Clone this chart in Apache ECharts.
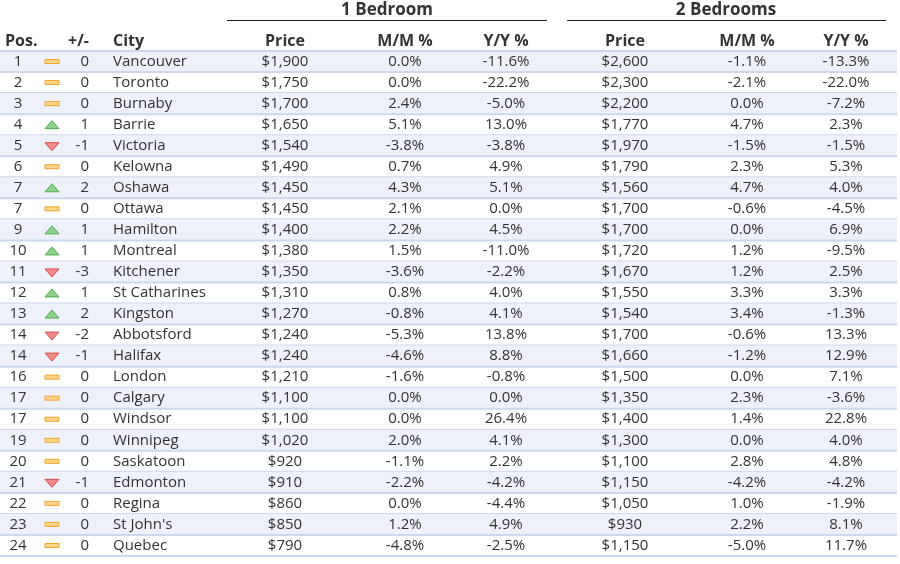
<!DOCTYPE html>
<html>
<head>
<meta charset="utf-8">
<script src="https://cdn.jsdelivr.net/npm/echarts@6/dist/echarts.min.js"></script>
<style>
html, body { margin: 0; padding: 0; background: #fff; }
#container { width: 900px; height: 564px; }
</style>
</head>
<body>
<div id="container"></div>
<script>
var positions = [1, 2, 3, 4, 5, 6, 7, 7, 9, 10, 11, 12, 13, 14, 14, 16, 17, 17, 19, 20, 21, 22, 23, 24];
var changes = [0, 0, 0, 1, -1, 0, 2, 0, 1, 1, -3, 1, 2, -2, -1, 0, 0, 0, 0, 0, -1, 0, 0, 0];
var cities = ['Vancouver', 'Toronto', 'Burnaby', 'Barrie', 'Victoria', 'Kelowna', 'Oshawa', 'Ottawa',
    'Hamilton', 'Montreal', 'Kitchener', 'St Catharines', 'Kingston', 'Abbotsford', 'Halifax', 'London',
    'Calgary', 'Windsor', 'Winnipeg', 'Saskatoon', 'Edmonton', 'Regina', "St John's", 'Quebec'];
var price1 = [1900, 1750, 1700, 1650, 1540, 1490, 1450, 1450, 1400, 1380, 1350, 1310, 1270, 1240, 1240, 1210, 1100, 1100, 1020, 920, 910, 860, 850, 790];
var mm1 = [0.0, 0.0, 2.4, 5.1, -3.8, 0.7, 4.3, 2.1, 2.2, 1.5, -3.6, 0.8, -0.8, -5.3, -4.6, -1.6, 0.0, 0.0, 2.0, -1.1, -2.2, 0.0, 1.2, -4.8];
var yy1 = [-11.6, -22.2, -5.0, 13.0, -3.8, 4.9, 5.1, 0.0, 4.5, -11.0, -2.2, 4.0, 4.1, 13.8, 8.8, -0.8, 0.0, 26.4, 4.1, 2.2, -4.2, -4.4, 4.9, -2.5];
var price2 = [2600, 2300, 2200, 1770, 1970, 1790, 1560, 1700, 1700, 1720, 1670, 1550, 1540, 1700, 1660, 1500, 1350, 1400, 1300, 1100, 1150, 1050, 930, 1150];
var mm2 = [-1.1, -2.1, 0.0, 4.7, -1.5, 2.3, 4.7, -0.6, 0.0, 1.2, 1.2, 3.3, 3.4, -0.6, -1.2, 0.0, 2.3, 1.4, 0.0, 2.8, -4.2, 1.0, 2.2, -5.0];
var yy2 = [-13.3, -22.0, -7.2, 2.3, -1.5, 5.3, 4.0, -4.5, 6.9, -9.5, 2.5, 3.3, -1.3, 13.3, 12.9, 7.1, -3.6, 22.8, 4.0, 4.8, -4.2, -1.9, 8.1, 11.7];

var groupHeaders = ['1 Bedroom', '2 Bedrooms'];
var colHeaders = ['Pos.', '+/-', 'City', 'Price', 'M/M %', 'Y/Y %', 'Price', 'M/M %', 'Y/Y %'];

var FONT = '15px "Open Sans", sans-serif';
var BOLD = 'bold 16px "Open Sans", sans-serif';
var TEXT = '#333333';

function money(v) { return '$' + v.toLocaleString('en-US'); }
function pct(v) { return v.toFixed(1) + '%'; }

var rows = [];
for (var i = 0; i < cities.length; i++) {
    rows.push([i, positions[i], changes[i], price1[i], mm1[i], yy1[i], price2[i], mm2[i], yy2[i]]);
}

function txt(x, y, s, align, font) {
    return {
        type: 'text',
        style: { text: s, x: x, y: y, align: align, verticalAlign: 'middle', font: font || FONT, fill: TEXT }
    };
}

function renderItem(params, api) {
    var i = params.dataIndex;
    var c = api.coord([0, i]);
    var h = api.size([0, 1])[1];
    var y = c[1];
    var X = function (v) { return api.coord([v, i])[0]; };
    var kids = [];
    if (i % 2 === 0) {
        kids.push({ type: 'rect', shape: { x: X(0), y: y - h / 2, width: X(897) - X(0), height: h }, style: { fill: '#eef0fa' } });
    }
    if (i === 0) {
        kids.push({ type: 'line', shape: { x1: X(0), y1: y - h / 2, x2: X(897), y2: y - h / 2 }, style: { stroke: '#ccd8ee', lineWidth: 2 } });
    }
    kids.push({ type: 'line', shape: { x1: X(0), y1: y + h / 2, x2: X(897), y2: y + h / 2 }, style: { stroke: '#ccd8ee', lineWidth: 2 } });

    var ch = changes[i];
    var ix = X(52);
    if (ch > 0) {
        kids.push({ type: 'polygon', shape: { points: [[ix - 7, y + 4], [ix + 7, y + 4], [ix, y - 4]] },
            style: { fill: '#8fd08f', stroke: '#4cae4c', lineWidth: 1 } });
    } else if (ch < 0) {
        kids.push({ type: 'polygon', shape: { points: [[ix - 7, y - 3], [ix + 7, y - 3], [ix, y + 5]] },
            style: { fill: '#f08a8a', stroke: '#d94c4c', lineWidth: 1 } });
    } else {
        kids.push({ type: 'rect', shape: { x: ix - 7, y: y - 2, width: 14, height: 4 },
            style: { fill: '#ffd58a', stroke: '#f5a32a', lineWidth: 1 } });
    }

    kids.push(txt(X(18), y, String(positions[i]), 'center'));
    kids.push(txt(X(89), y, String(ch), 'right'));
    kids.push(txt(X(113), y, cities[i], 'left'));
    kids.push(txt(X(285), y, money(price1[i]), 'center'));
    kids.push(txt(X(405), y, pct(mm1[i]), 'center'));
    kids.push(txt(X(506), y, pct(yy1[i]), 'center'));
    kids.push(txt(X(625), y, money(price2[i]), 'center'));
    kids.push(txt(X(747), y, pct(mm2[i]), 'center'));
    kids.push(txt(X(846), y, pct(yy2[i]), 'center'));
    return { type: 'group', children: kids };
}

var headerX = [5, 89, 113, 285, 405, 506, 625, 747, 846];
var headerAlign = ['left', 'right', 'left', 'center', 'center', 'center', 'center', 'center', 'center'];
var graphics = [];
for (var k = 0; k < colHeaders.length; k++) {
    graphics.push({ type: 'text', x: headerX[k], y: 41,
        style: { text: colHeaders[k], align: headerAlign[k], verticalAlign: 'middle', font: BOLD, fill: TEXT } });
}
var groupX = [387, 726];
var groupSpan = [[227, 547], [567, 886]];
for (var g = 0; g < groupHeaders.length; g++) {
    graphics.push({ type: 'text', x: groupX[g], y: 10,
        style: { text: groupHeaders[g], align: 'center', verticalAlign: 'middle', font: 'bold 17px "Open Sans", sans-serif', fill: TEXT } });
    graphics.push({ type: 'line', shape: { x1: groupSpan[g][0], y1: 20.5, x2: groupSpan[g][1], y2: 20.5 },
        style: { stroke: '#222', lineWidth: 1 } });
}

var dom = document.getElementById('container');
var myChart = echarts.init(dom);
var option = {
    animation: false,
    grid: { left: 0, right: 0, top: 51, bottom: 8 },
    xAxis: { type: 'value', min: 0, max: 900, show: false },
    yAxis: { type: 'category', data: cities, inverse: true, show: false },
    graphic: graphics,
    series: [{
        type: 'custom',
        renderItem: renderItem,
        data: rows,
        encode: { x: -1, y: 0 },
        silent: true
    }]
};
myChart.setOption(option);
</script>
</body>
</html>
